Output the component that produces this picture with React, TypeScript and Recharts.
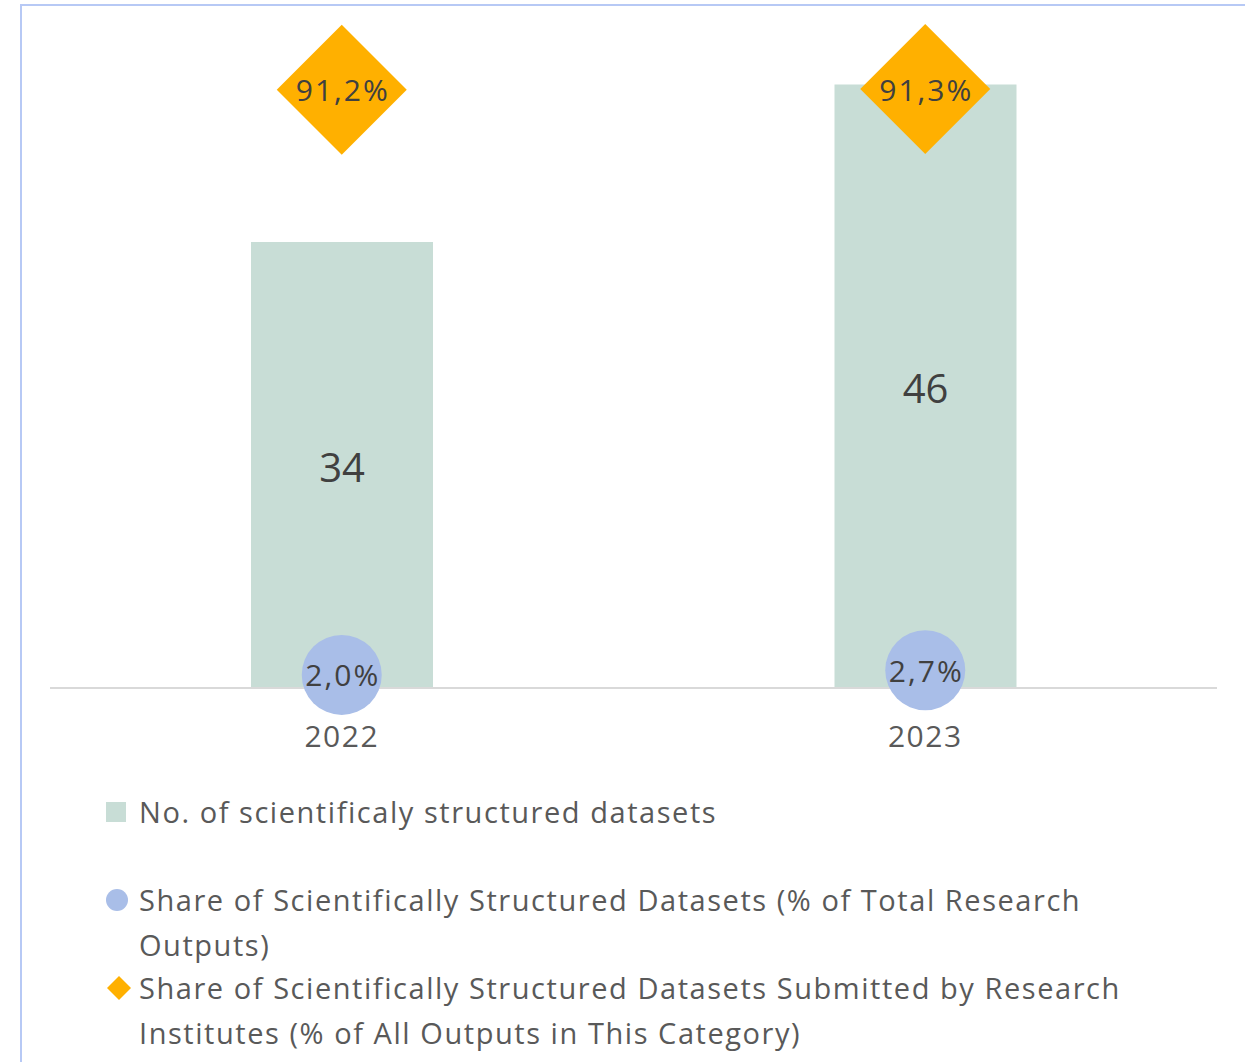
import React from 'react';
import { ComposedChart, Bar, Line, XAxis, YAxis, LabelList } from 'recharts';

const years = ['2022', '2023'];
const datasetCounts = [34, 46];
const shareOfTotal = [2.0, 2.7];
const shareByInstitutes = [91.2, 91.3];

const seriesNames = [
  'No. of scientificaly structured datasets',
  'Share of Scientifically Structured Datasets (% of Total Research Outputs)',
  'Share of Scientifically Structured Datasets Submitted by Research Institutes (% of All Outputs in This Category)',
];
const legendLines = [
  ['No. of scientificaly structured datasets'],
  ['Share of Scientifically Structured Datasets (% of Total Research', 'Outputs)'],
  ['Share of Scientifically Structured Datasets Submitted by Research', 'Institutes (% of All Outputs in This Category)'],
];

const data = years.map((y, i) => ({
  year: y,
  count: datasetCounts[i],
  shareTotal: shareOfTotal[i],
  shareInst: shareByInstitutes[i],
}));

const BAR_COLOR = '#c8ddd6';
const CIRCLE_COLOR = '#a9bee8';
const DIAMOND_COLOR = '#ffb000';
const TEXT_DARK = '#404040';
const TEXT_GRAY = '#595959';
const FONT = "'Open Sans', 'Noto Sans', sans-serif";

const fmt = (v: number) => v.toFixed(1).replace('.', ',') + '%';

const CircleDot = (props: any) => {
  const { cx, cy } = props;
  if (cx == null || cy == null) return null;
  return <circle cx={cx} cy={cy} r={40} fill={CIRCLE_COLOR} />;
};

const DiamondDot = (props: any) => {
  const { cx, cy } = props;
  if (cx == null || cy == null) return null;
  const h = 65;
  return (
    <polygon
      points={`${cx},${cy - h} ${cx + h},${cy} ${cx},${cy + h} ${cx - h},${cy}`}
      fill={DIAMOND_COLOR}
    />
  );
};

const PctLabel = (props: any) => {
  const { x, y, value } = props;
  return (
    <text
      x={x + 1}
      y={y}
      textAnchor="middle"
      dominantBaseline="central"
      fill={TEXT_DARK}
      fontSize={30}
      fontFamily={FONT}
      style={{ letterSpacing: '2px' }}
    >
      {fmt(Number(value))}
    </text>
  );
};

const LegendMarker = ({ kind }: { kind: number }) => {
  if (kind === 0) return <div style={{ width: 20, height: 20, background: BAR_COLOR }} />;
  if (kind === 1) return <div style={{ width: 22, height: 22, borderRadius: 11, background: CIRCLE_COLOR }} />;
  return (
    <svg width={26} height={26}>
      <polygon points="13,1 25,13 13,25 1,13" fill={DIAMOND_COLOR} />
    </svg>
  );
};

const legendTops = [811, 899, 987];

export default function App() {
  return (
    <div style={{ position: 'absolute', left: 0, top: 0, width: 1245, height: 1062, overflow: 'hidden', background: '#fff', fontFamily: FONT }}>
      <div
        style={{
          position: 'absolute',
          left: 20,
          top: 4,
          width: 1300,
          height: 1100,
          borderLeft: '2px solid #b7c9f5',
          borderTop: '2px solid #b7c9f5',
        }}
      />
      <div style={{ position: 'absolute', left: 0, top: 0 }}>
        <ComposedChart
          width={1245}
          height={760}
          data={data}
          margin={{ top: 32, right: 28, left: 50, bottom: 0 }}
        >
          <XAxis
            dataKey="year"
            height={72}
            axisLine={{ stroke: '#d9d9d9', strokeWidth: 2 }}
            tickLine={false}
            tickMargin={32}
            tick={{ fill: TEXT_GRAY, fontSize: 30, fontFamily: FONT, style: { letterSpacing: '1.5px' } }}
          />
          <YAxis yAxisId="left" hide domain={[0, 50]} />
          <YAxis yAxisId="right" orientation="right" hide domain={[0, 100]} />
          <Bar yAxisId="left" dataKey="count" name={seriesNames[0]} fill={BAR_COLOR} barSize={182} isAnimationActive={false}>
            <LabelList dataKey="count" position="center" fill={TEXT_DARK} fontSize={40} fontFamily={FONT} dy={3} />
          </Bar>
          <Line
            yAxisId="right"
            dataKey="shareTotal"
            name={seriesNames[1]}
            stroke="none"
            dot={<CircleDot />}
            activeDot={false}
            isAnimationActive={false}
          >
            <LabelList dataKey="shareTotal" content={<PctLabel />} />
          </Line>
          <Line
            yAxisId="right"
            dataKey="shareInst"
            name={seriesNames[2]}
            stroke="none"
            dot={<DiamondDot />}
            activeDot={false}
            isAnimationActive={false}
          >
            <LabelList dataKey="shareInst" content={<PctLabel />} />
          </Line>
        </ComposedChart>
      </div>
      {legendLines.map((lines, i) => (
        <div key={i} style={{ position: 'absolute', left: 106, top: legendTops[i] - 22, display: 'flex', alignItems: 'flex-start' }}>
          <div style={{ width: 33, height: 45, display: 'flex', alignItems: 'center' }}>
            <LegendMarker kind={i} />
          </div>
          <div style={{ color: TEXT_GRAY, fontSize: 29, lineHeight: '45px', whiteSpace: 'nowrap', letterSpacing: '1.55px' }}>
            {lines.map((l, j) => (
              <div key={j}>{l}</div>
            ))}
          </div>
        </div>
      ))}
    </div>
  );
}
